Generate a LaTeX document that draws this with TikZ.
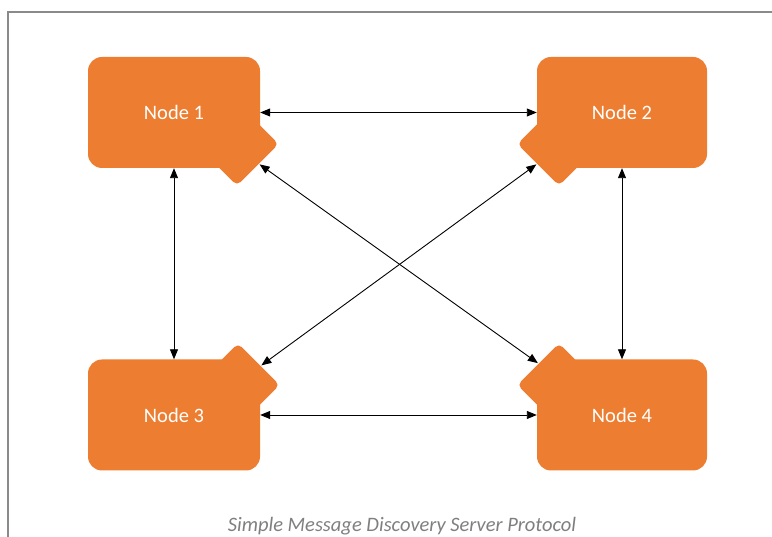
\documentclass[tikz,border=0pt]{standalone}
\usepackage{fontspec}
\setmainfont{Carlito}
\usetikzlibrary{arrows.meta,shapes.geometric}
\definecolor{nodeorange}{HTML}{ED7D31}
\definecolor{framegray}{HTML}{8A8A8A}
\definecolor{captiongray}{HTML}{7F7F7F}
\tikzset{
  box/.style={rectangle, rounded corners=14pt, fill=nodeorange, draw=none,
    minimum height=111pt, inner sep=0pt, text=white, font=\fontsize{20.5}{24}\selectfont},
  tab/.style={diamond, aspect=1, fill=nodeorange, draw=none, rounded corners=5pt,
    minimum width=84pt, minimum height=84pt, inner sep=0pt, outer sep=1pt},
  link/.style={draw=black, line width=0.9pt, {Triangle[length=10pt,width=8pt]}-{Triangle[length=10pt,width=8pt]}},
}
\begin{document}
\begin{tikzpicture}[x=1pt,y=1pt]
\useasboundingbox (0,0) rectangle (772,537);
% frame
\draw[framegray, line width=1.6pt] (8,0) -- (8,525) -- (772,525);
% tabs
\node[tab] (t1) at (237,393) {};
\node[tab] (t2) at (559,393) {};
\node[tab] (t3) at (238,152) {};
\node[tab] (t4) at (559,152) {};
% boxes
\node[box, minimum width=172pt] (n1) at (174,424.5) {Node 1};
\node[box, minimum width=170pt] (n2) at (622,424.5) {Node 2};
\node[box, minimum width=172pt] (n3) at (174,122) {Node 3};
\node[box, minimum width=170pt] (n4) at (622,122) {Node 4};
% connectors
\draw[link] (n1.east) -- (n2.west);
\draw[link] (n3.east |- n3.center) -- (n4.west);
\draw[link] (n1.south) -- (n3.north);
\draw[link] (n2.south) -- (n4.north);
\draw[link] (t1.-42) -- (t4.134);
\draw[link] (t2.222) -- (t3.40);
% caption
\node[font=\fontsize{20.5}{24}\selectfont\itshape, text=captiongray, anchor=base] (cap) at (402,5) {Simple Message Discovery Server Protocol};
\end{tikzpicture}
\end{document}
